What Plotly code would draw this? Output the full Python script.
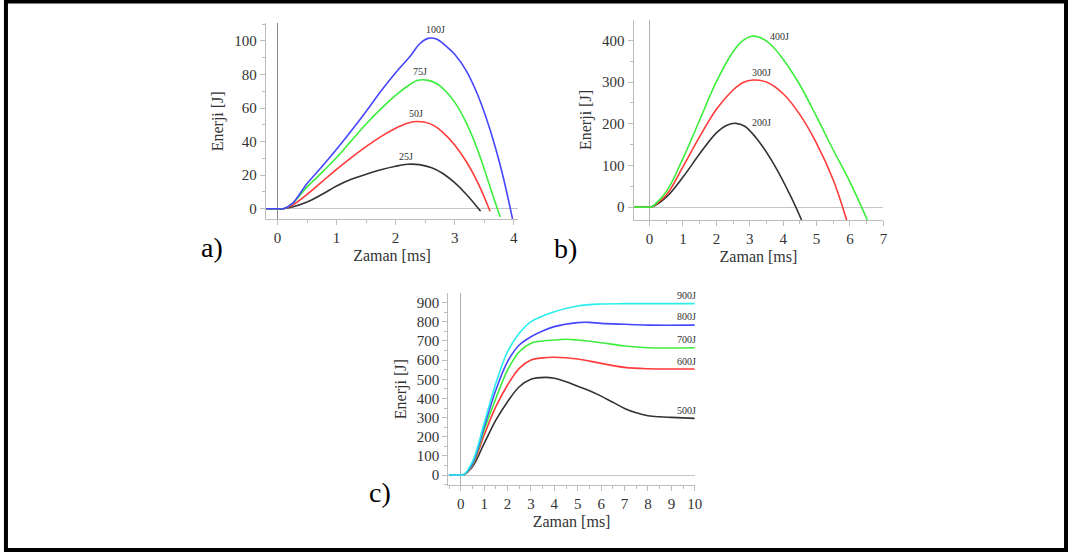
import plotly.graph_objects as go

# ---- data: energy [J] versus time [ms] ----
# panel a
t_25 = [-0.2, 0, 0.1, 0.25, 0.5, 0.75, 1, 1.25, 1.5, 1.75, 2, 2.2, 2.4, 2.6, 2.8, 3, 3.2, 3.44]
e_25 = [0, 0, 0, 1, 4, 8.5, 13.5, 17.5, 20.5, 23.2, 25.3, 26.5, 26.3, 24.5, 21, 15.5, 8.5, -1.5]
t_50 = [-0.2, 0, 0.1, 0.25, 0.5, 0.75, 1, 1.25, 1.5, 1.75, 2, 2.2, 2.35, 2.5, 2.65, 2.8, 3, 3.2, 3.4, 3.6]
e_50 = [0, 0, 0, 2, 8.5, 16, 23.5, 30.5, 37, 43, 48, 51, 52, 51.5, 49.5, 45.5, 38, 28, 15, -1.5]
t_75 = [-0.2, 0, 0.1, 0.25, 0.5, 0.75, 1, 1.25, 1.5, 1.75, 2, 2.2, 2.38, 2.55, 2.7, 2.85, 3, 3.2, 3.4, 3.6, 3.77]
e_75 = [0, 0, 0, 3, 13, 21.5, 30.5, 40.5, 50.5, 59.5, 67.5, 73, 76.5, 76.5, 74.5, 70, 63.5, 51, 34, 13, -5]
t_100 = [-0.2, 0, 0.1, 0.25, 0.5, 0.75, 1, 1.25, 1.5, 1.75, 2, 2.25, 2.4, 2.55, 2.7, 2.85, 3, 3.2, 3.4, 3.6, 3.8, 3.98]
e_100 = [0, 0, 0, 3, 15, 25, 35.5, 46.5, 58, 70, 81, 91, 98, 101.5, 101, 97, 92, 82, 67, 47, 22, -6]

# panel b
t_200 = [-0.5, 0, 0.05, 0.5, 1, 1.5, 2, 2.3, 2.58, 2.85, 3.25, 3.75, 4.25, 4.55]
e_200 = [0, 0, 0, 24, 72, 128, 178, 196, 201, 194, 160, 99, 22, -31]
t_300 = [-0.5, 0, 0.05, 0.5, 1, 1.5, 2, 2.5, 2.8, 3.1, 3.5, 4, 4.5, 5, 5.5, 5.9]
e_300 = [0, 0, 0, 29, 97, 169, 235, 281, 299, 305, 300, 272, 222, 153, 65, -31]
t_400 = [-0.5, 0, 0.05, 0.5, 1, 1.5, 2, 2.5, 2.8, 3.05, 3.3, 3.6, 4, 4.5, 5, 5.5, 6, 6.52]
e_400 = [0, 0, 0, 37, 117, 209, 301, 373, 400, 410, 407, 392, 355, 293, 217, 137, 60, -31]

# panel c
t_500 = [-0.5, 0, 0.1, 0.5, 1, 1.5, 2, 2.5, 3, 3.6, 4, 4.5, 5, 5.5, 6, 6.5, 7, 7.5, 8, 8.5, 9, 10]
e_500 = [0, 0, 0, 43, 165, 287, 383, 461, 500, 510, 505, 487, 463, 440, 412, 380, 348, 325, 310, 304, 301, 296]
t_600 = [-0.5, 0, 0.1, 0.5, 1, 1.5, 2, 2.5, 3, 3.5, 4, 5, 6, 7, 8, 10]
e_600 = [0, 0, 0, 50, 209, 357, 470, 557, 601, 612, 615, 606, 583, 562, 555, 554]
t_700 = [-0.5, 0, 0.1, 0.5, 1, 1.5, 2, 2.5, 3, 3.5, 4, 4.5, 5, 6, 7, 8, 10]
e_700 = [0, 0, 0, 55, 235, 400, 548, 644, 688, 700, 705, 709, 705, 691, 674, 665, 665]
t_800 = [-0.5, 0, 0.1, 0.5, 1, 1.5, 2, 2.5, 3, 3.5, 4, 5, 5.5, 6, 7, 8, 10]
e_800 = [0, 0, 0, 60, 252, 444, 592, 679, 722, 752, 775, 796, 797, 792, 787, 783, 783]
t_900 = [-0.5, 0, 0.1, 0.5, 1, 1.5, 2, 2.5, 3, 3.5, 4, 5, 6, 7, 10]
e_900 = [0, 0, 0, 70, 270, 479, 644, 740, 801, 830, 853, 883, 893, 895, 895]

# curve labels: (text, x, y) in data units
labels_a = [("100J", 2.67, 107), ("75J", 2.42, 81.5), ("50J", 2.35, 57), ("25J", 2.18, 31.3)]
labels_b = [("400J", 3.88, 410), ("300J", 3.35, 322), ("200J", 3.35, 202)]
labels_c = [("900J", 9.66, 940), ("800J", 9.66, 830), ("700J", 9.66, 710),
            ("600J", 9.66, 595), ("500J", 9.66, 339)]

BLACK = "#333333"
RED = "#ff3b3b"
GREEN = "#3cee3c"
BLUE = "#4646ff"
CYAN = "#2ceeee"
SERIF = "Liberation Serif"
AXIS_GREY = "#bdbdbd"

fig = go.Figure()


def add_curve(t, e, color, xa, ya):
    fig.add_trace(go.Scatter(
        x=t, y=e, mode="lines", xaxis=xa, yaxis=ya,
        line=dict(color=color, width=1.6, shape="spline", smoothing=1.0),
        showlegend=False, hoverinfo="skip"))


# panel a
add_curve(t_25, e_25, BLACK, "x", "y")
add_curve(t_50, e_50, RED, "x", "y")
add_curve(t_75, e_75, GREEN, "x", "y")
add_curve(t_100, e_100, BLUE, "x", "y")
# panel b
add_curve(t_200, e_200, BLACK, "x2", "y2")
add_curve(t_300, e_300, RED, "x2", "y2")
add_curve(t_400, e_400, GREEN, "x2", "y2")
# panel c
add_curve(t_500, e_500, BLACK, "x3", "y3")
add_curve(t_600, e_600, RED, "x3", "y3")
add_curve(t_700, e_700, GREEN, "x3", "y3")
add_curve(t_800, e_800, BLUE, "x3", "y3")
add_curve(t_900, e_900, CYAN, "x3", "y3")


def xaxis(domain, rng, anchor, dtick, minor, zcolor):
    return dict(
        domain=domain, range=rng, anchor=anchor, dtick=dtick, tick0=0,
        showgrid=False, showline=True, linecolor=AXIS_GREY, linewidth=1,
        ticks="outside", ticklen=5, tickcolor=AXIS_GREY,
        minor=dict(dtick=minor, ticks="outside", ticklen=3, tickcolor=AXIS_GREY),
        zeroline=True, zerolinecolor=zcolor, zerolinewidth=1,
        tickfont=dict(family=SERIF, size=15, color=BLACK),
        title=dict(text="Zaman [ms]", font=dict(family=SERIF, size=16, color=BLACK), standoff=4),
        fixedrange=True)


def yaxis(domain, rng, anchor, dtick, minor):
    return dict(
        domain=domain, range=rng, anchor=anchor, dtick=dtick, tick0=0,
        showgrid=False, showline=True, linecolor=AXIS_GREY, linewidth=1,
        ticks="outside", ticklen=5, tickcolor=AXIS_GREY,
        minor=dict(dtick=minor, ticks="outside", ticklen=3, tickcolor=AXIS_GREY),
        zeroline=True, zerolinecolor="#c4c4c4", zerolinewidth=1,
        tickfont=dict(family=SERIF, size=15, color=BLACK),
        title=dict(text="Enerji [J]", font=dict(family=SERIF, size=16, color=BLACK), standoff=6),
        fixedrange=True)


W, H = 1076, 553


def dx(p0, p1):
    return [p0 / W, p1 / W]


def dy(top, bottom):
    return [1 - bottom / H, 1 - top / H]


fig.update_layout(
    width=W, height=H,
    margin=dict(l=0, r=0, t=0, b=0),
    paper_bgcolor="white", plot_bgcolor="white",
    font=dict(family=SERIF),
    xaxis=xaxis(dx(267.7, 522.3), [-0.2, 4.08], "y", 1, 0.5, "#8a8a8a"),
    yaxis=yaxis(dy(23.3, 219.3), [-6.3, 110.5], "x", 20, 10),
    xaxis2=xaxis(dx(638.3, 890), [-0.48, 7], "y2", 1, 0.5, "#b0b0b0"),
    yaxis2=yaxis(dy(20, 220), [-31, 449], "x2", 100, 50),
    xaxis3=xaxis(dx(451.7, 700), [-0.53, 10], "y3", 1, 0.5, "#b0b0b0"),
    yaxis3=yaxis(dy(293.3, 485), [-52, 949], "x3", 100, 50),
)

annotations = []
for labels, xr, yr in ((labels_a, "x", "y"), (labels_b, "x2", "y2"), (labels_c, "x3", "y3")):
    for text, lx, ly in labels:
        annotations.append(dict(
            text=text, x=lx, y=ly, xref=xr, yref=yr, showarrow=False,
            font=dict(family=SERIF, size=10, color=BLACK)))

# panel letters
for text, px, py in (("a)", 200, 247), ("b)", 570, 248), ("c)", 383, 510)):
    annotations.append(dict(
        text=text, x=px / W, y=1 - py / H, xref="paper", yref="paper",
        showarrow=False, font=dict(family=SERIF, size=28, color="black")))

fig.update_layout(annotations=annotations)

# frame around the whole figure
fig.add_shape(type="rect", xref="paper", yref="paper",
              x0=6 / W, x1=1074 / W, y0=1 - 550 / H, y1=1 - 1.5 / H,
              line=dict(color="black", width=4), fillcolor="rgba(0,0,0,0)")

fig.write_html("out.html", config={"displayModeBar": False})
